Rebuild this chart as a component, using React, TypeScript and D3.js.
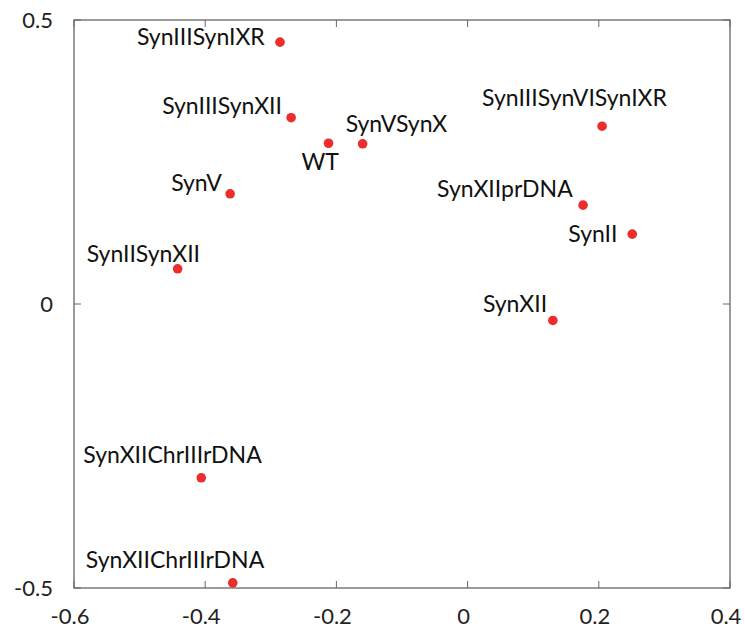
import React from "react";
import * as d3 from "d3";

// Strain names and their two-dimensional embedding coordinates
const strains = [
  "SynIIISynIXR",
  "SynIIISynXII",
  "WT",
  "SynVSynX",
  "SynV",
  "SynIIISynVISynIXR",
  "SynXIIprDNA",
  "SynII",
  "SynXII",
  "SynIISynXII",
  "SynXIIChrIIIrDNA",
  "SynXIIChrIIIrDNA",
];
const xValues = [-0.286, -0.269, -0.212, -0.16, -0.362, 0.205, 0.176, 0.251, 0.13, -0.442, -0.406, -0.358];
const yValues = [0.461, 0.328, 0.283, 0.282, 0.194, 0.313, 0.174, 0.123, -0.029, 0.062, -0.306, -0.491];

// Label placement relative to each point (pixels: left edge, baseline)
const labelOffsets: [number, number][] = [
  [-143, 3],
  [-129, -4],
  [-27, 27],
  [-17, -12],
  [-59, -3],
  [-120, -20],
  [-146, -8],
  [-64, 8],
  [-70, -8],
  [-91, -7],
  [-118, -15],
  [-147, -15],
];

const xTicks = [-0.6, -0.4, -0.2, 0, 0.2, 0.4];
const yTicks = [-0.5, 0, 0.5];

const W = 745;
const H = 631;
const margin = { left: 74, right: 15, top: 20, bottom: 43 };
const FONT = "Lato, 'Open Sans', sans-serif";
const AXIS = "#666666";
const TICK = 7;

export default function App() {
  const x = d3.scaleLinear().domain([-0.6, 0.4]).range([margin.left, W - margin.right]);
  const y = d3.scaleLinear().domain([-0.5, 0.5]).range([H - margin.bottom, margin.top]);
  const [x0, x1] = x.range();
  const [y0, y1] = y.range();

  return (
    <svg
      width={W}
      height={H}
      style={{ position: "absolute", left: 0, top: 0, background: "#fff" }}
      fontFamily={FONT}
    >
      {/* frame */}
      <rect x={x0} y={y1} width={x1 - x0} height={y0 - y1} fill="none" stroke={AXIS} strokeWidth={1.3} />

      {/* x ticks, bottom and top, pointing inward */}
      {xTicks.map((t) => (
        <g key={"xt" + t}>
          <line x1={x(t)} x2={x(t)} y1={y0} y2={y0 - TICK} stroke={AXIS} strokeWidth={1} />
          <line x1={x(t)} x2={x(t)} y1={y1} y2={y1 + TICK} stroke={AXIS} strokeWidth={1} />
          <text x={x(t) - 4} y={y0 + 36} textAnchor="middle" fontSize={22} fill="#222">
            {d3.format("")(t).replace("−", "-")}
          </text>
        </g>
      ))}

      {/* y ticks, left and right, pointing inward */}
      {yTicks.map((t) => (
        <g key={"yt" + t}>
          <line x1={x0} x2={x0 + TICK} y1={y(t)} y2={y(t)} stroke={AXIS} strokeWidth={1} />
          <line x1={x1} x2={x1 - TICK} y1={y(t)} y2={y(t)} stroke={AXIS} strokeWidth={1} />
          <text x={x0 - 21} y={y(t) + 8} textAnchor="end" fontSize={22} fill="#222">
            {d3.format("")(t).replace("−", "-")}
          </text>
        </g>
      ))}

      {/* points */}
      {strains.map((s, i) => (
        <circle key={"p" + i} cx={x(xValues[i])} cy={y(yValues[i])} r={4.8} fill="#ec2d2d" />
      ))}

      {/* labels */}
      {strains.map((s, i) => (
        <text
          key={"l" + i}
          x={x(xValues[i]) + labelOffsets[i][0]}
          y={y(yValues[i]) + labelOffsets[i][1]}
          fontSize={23}
          fill="#111"
        >
          {s}
        </text>
      ))}
    </svg>
  );
}
